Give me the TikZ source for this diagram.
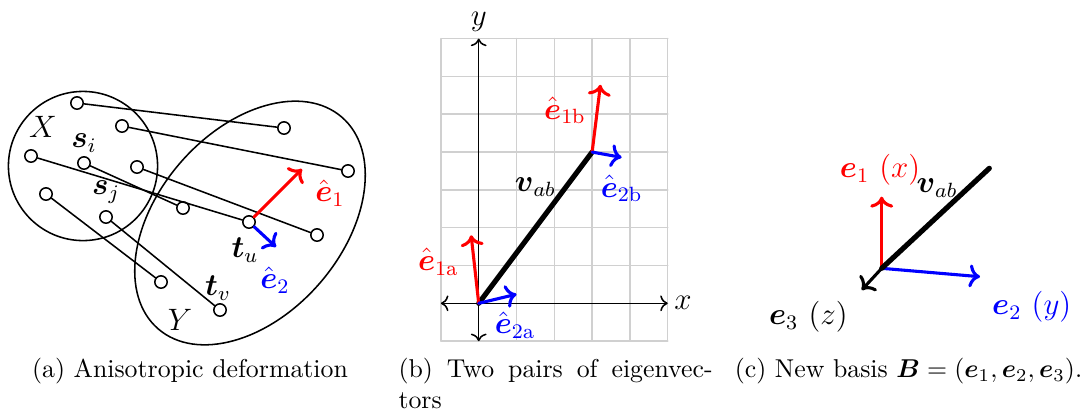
\documentclass[tikz,border=0pt]{standalone}
\usepackage{amsmath}
\usetikzlibrary{arrows.meta}
\definecolor{gridgray}{HTML}{D0D0D0}
\newcommand{\bv}[1]{\boldsymbol{#1}}
\tikzset{
  ptnode/.style={circle,draw,semithick,fill=white,inner sep=0pt,minimum size=4.8pt},
  lbl/.style={font=\large},
  vecarrow/.style={->,very thick},
}
\begin{document}
\begin{tikzpicture}[x=0.3875pt,y=-0.3875pt,line cap=round,line join=round]
  \path[use as bounding box] (0,0) rectangle (1090,413);
  \fill[white] (0,0) rectangle (1090,413);

  % (a) anisotropic deformation
  \draw[semithick] (83,166) circle [radius=28.9pt];
  \draw[semithick,rotate around={49:(250,223)}] (250,223) ellipse [x radius=54.3pt,y radius=35.7pt];
  \foreach \n/\x/\y in {s1/77/103,s2/122/126,s3/31/156,s4/84/163,s5/137/167,s6/46/194,s7/106/217,
                        t1/284/128,t2/348/171,t3/249/222,t4/183/208,t5/317/235,t6/161/282,t7/220/310}
    \node[ptnode] (\n) at (\x,\y) {};
  \foreach \i in {1,...,7}
    \draw[semithick] (s\i) -- (t\i);
  \coordinate (tipe1) at (302,169);
  \coordinate (tipe2) at (276,247);
  \draw[vecarrow,red] (t3) -- (tipe1);
  \draw[vecarrow,blue] (t3) -- (tipe2);
  \node[lbl] (labX) at (43,127) {$X$};
  \node[lbl] (labY) at (180,320) {$Y$};
  \node[lbl] (labsi) at (84,143) {$\bv{s}_i$};
  \node[lbl] (labsj) at (106,192) {$\bv{s}_j$};
  \node[lbl] (labtu) at (245,250) {$\bv{t}_u$};
  \node[lbl] (labtv) at (218,288) {$\bv{t}_v$};
  \node[lbl,text=red] (labe1) at (330,193) {$\hat{\bv{e}}_1$};
  \node[lbl,text=blue] (labe2) at (275,280) {$\hat{\bv{e}}_2$};

  % (b) two pairs of eigenvectors
  \begin{scope}[shift={(478.7,303.3)},x=14.65pt,y=14.65pt]
    \draw[gridgray,semithick,step=1] (-1,-1) grid (5,7);
    \draw[semithick,<->] (-1,0) -- (5,0);
    \draw[semithick,<->] (0,-1) -- (0,7);
    \node[lbl] (labx) at (5.4,0) {$x$};
    \node[lbl,inner sep=0.5pt] (laby) at (0,7.45) {$y$};
    \coordinate (va) at (0,0);
    \coordinate (vb) at (3,4);
    \draw[line width=2pt] (va) -- (vb);
    \node[lbl] (labvab) at (1.5,3.08) {$\bv{v}_{ab}$};
    \coordinate (tipe1a) at (-0.2,1.8);
    \coordinate (tipe2a) at (1.0,0.24);
    \coordinate (tipe1b) at (3.22,5.78);
    \coordinate (tipe2b) at (3.78,3.86);
    \draw[vecarrow,red] (va) -- (tipe1a);
    \draw[vecarrow,blue] (va) -- (tipe2a);
    \draw[vecarrow,red] (vb) -- (tipe1b);
    \draw[vecarrow,blue] (vb) -- (tipe2b);
    \node[lbl,text=red] (labe1a) at (-1.07,1.1) {$\hat{\bv{e}}_{1\mathrm{a}}$};
    \node[lbl,text=blue] (labe2a) at (0.96,-0.57) {$\hat{\bv{e}}_{2\mathrm{a}}$};
    \node[lbl,text=red] (labe1b) at (2.28,5.1) {$\hat{\bv{e}}_{1\mathrm{b}}$};
    \node[lbl,text=blue] (labe2b) at (3.78,3.04) {$\hat{\bv{e}}_{2\mathrm{b}}$};
  \end{scope}

  % (c) new basis
  \coordinate (bo) at (881.7,268.3);
  \coordinate (tipb1) at (881.7,196.7);
  \coordinate (tipb2) at (980,276.7);
  \coordinate (tipb3) at (861.7,290);
  \coordinate (vend) at (989.3,168.3);
  \draw[vecarrow,red] (bo) -- (tipb1);
  \draw[vecarrow,blue] (bo) -- (tipb2);
  \draw[vecarrow] (bo) -- (tipb3);
  \draw[line width=2pt] (bo) -- (vend);
  \node[lbl,text=red] (labb1) at (880,170) {$\bv{e}_1~(x)$};
  \node[lbl] (labvc) at (937,188) {$\bv{v}_{ab}$};
  \node[lbl,text=blue] (labb2) at (1031.7,306.7) {$\bv{e}_2~(y)$};
  \node[lbl] (labb3) at (808.3,316.7) {$\bv{e}_3~(z)$};

  % captions
  \node[anchor=base] (capa) at (190,377.5) {(a) Anisotropic deformation};
  \node[anchor=base west,text width=121.7pt,align=justify,inner sep=0pt] (capb) at (398,377.5)
    {(b) Two pairs of eigenvec-\linebreak tors};
  \node[anchor=base] (capc) at (908.5,377.5) {(c) New basis $\bv{B}=(\bv{e}_1,\bv{e}_2,\bv{e}_3)$.};
\end{tikzpicture}
\end{document}
